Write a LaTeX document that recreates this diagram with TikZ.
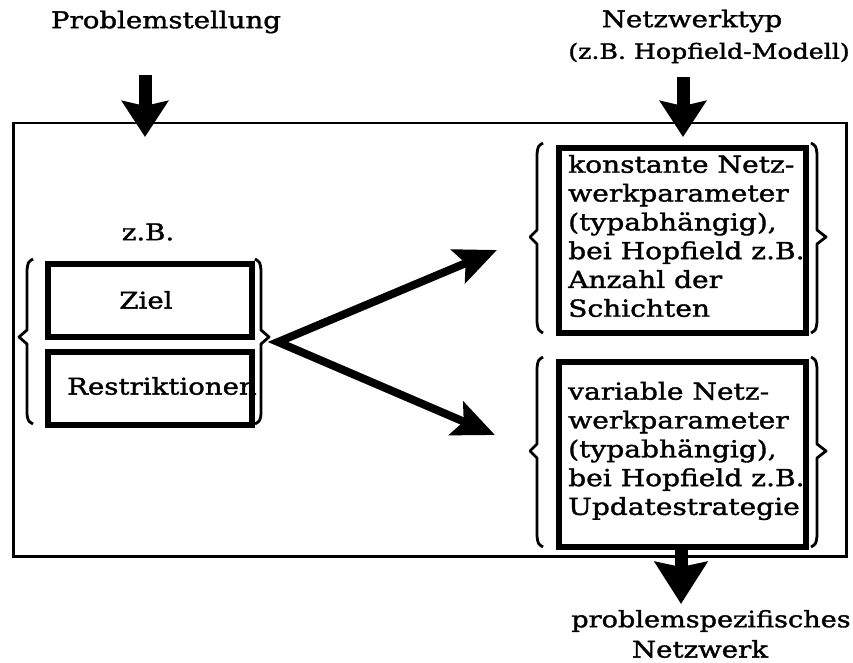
\documentclass[tikz,border=0pt]{standalone}
\usepackage{fontspec}
\setmainfont{DejaVu Serif}[FakeStretch=1.2, FakeBold=1.5]
\usetikzlibrary{arrows.meta}
\begin{document}
\begin{tikzpicture}[x=1pt,y=-1pt,
  lbl/.style={font=\fontsize{23}{27}\selectfont, inner sep=0pt},
  boxtxt/.style={font=\fontsize{23.4}{28.8}\selectfont, align=left, inner sep=0pt, anchor=west},
  thickbox/.style={draw, line width=6pt, inner sep=0pt, anchor=north west},
  bracestyle/.style={line width=2.8pt, line join=round},
  frame/.style={draw, line width=2.5pt},
  bigarrow/.style={line width=13pt, -{Stealth[length=36pt,width=46pt,inset=5pt]}},
  diagarrow/.style={line width=8pt, {Stealth[length=42pt,width=36pt,inset=8pt]}-{Stealth[length=42pt,width=36pt,inset=8pt]}}
]
\useasboundingbox (0,0) rectangle (853,663);

% outer frame
\node[frame, minimum width=833pt, minimum height=433pt, anchor=north west, inner sep=0pt] (frame) at (12,122) {};

% titles
\node[lbl] (prob) at (166,22) {Problemstellung};
\node[lbl] (netz1) at (692,21) {Netzwerktyp};
\node[lbl, font=\fontsize{21}{25}\selectfont] (netz2) at (709,53) {(z.B. Hopfield-Modell)};
\node[lbl, font=\fontsize{22.6}{27}\selectfont] (res1) at (711,621) {problemspezifisches};
\node[lbl] (res2) at (700,649) {Netzwerk};
\node[lbl] (zb) at (148,232) {z.B.};

% left boxes
\node[thickbox, minimum width=204pt, minimum height=73pt] (ziel) at (45,261) {};
\node[thickbox, minimum width=204pt, minimum height=73pt] (restr) at (45,349) {};
\node[lbl] (zieltxt) at (146,300) {Ziel};
\node[lbl, anchor=west] (restrtxt) at (67,386) {Restriktionen};

% left braces
\draw[bracestyle] (33,259) .. controls (28,262) .. (27,270) -- (27,330) -- (19,337) -- (27,344) -- (27,414) .. controls (28,421) .. (33,424);
\draw[bracestyle] (255,259) .. controls (260,262) .. (261,270) -- (261,330) -- (269,337) -- (261,344) -- (261,414) .. controls (260,421) .. (255,424);

% right boxes
\node[thickbox, minimum width=247pt, minimum height=185pt] (k1) at (556,145) {};
\node[thickbox, minimum width=247pt, minimum height=185pt] (k2) at (556,359) {};
\node[boxtxt] (k1t) at (568,236) {konstante Netz-\\werkparameter\\(typabhängig),\\bei Hopfield z.B.\\Anzahl der\\Schichten};
\node[boxtxt] (k2t) at (568,451) {variable Netz-\\werkparameter\\(typabhängig),\\bei Hopfield z.B.\\Updatestrategie};

% right braces
\draw[bracestyle] (543,143) .. controls (538,146) .. (537,154) -- (537,230) -- (530,237) -- (537,244) -- (537,322) .. controls (538,330) .. (543,333);
\draw[bracestyle] (811,143) .. controls (816,146) .. (817,154) -- (817,230) -- (826,237) -- (817,244) -- (817,322) .. controls (816,330) .. (811,333);
\draw[bracestyle] (543,357) .. controls (538,360) .. (537,368) -- (537,444) -- (530,451) -- (537,458) -- (537,536) .. controls (538,544) .. (543,547);
\draw[bracestyle] (811,357) .. controls (816,360) .. (817,368) -- (817,444) -- (826,451) -- (817,458) -- (817,536) .. controls (816,544) .. (811,547);

% arrows
\coordinate (a1s) at (145,75);
\coordinate (a1e) at (145,137);
\coordinate (a2s) at (683,77);
\coordinate (a2e) at (683,137);
\coordinate (a3s) at (681,545);
\coordinate (a3e) at (681,604);
\coordinate (fork) at (278,342);
\coordinate (up) at (497,250);
\coordinate (down) at (495,435);
\draw[bigarrow] (a1s) -- (a1e);
\draw[bigarrow] (a2s) -- (a2e);
\draw[bigarrow, -{Stealth[length=42pt,width=52pt,inset=5pt]}] (a3s) -- (a3e);
\draw[diagarrow, line join=miter] (up) -- (fork) -- (down);
\end{tikzpicture}
\end{document}
